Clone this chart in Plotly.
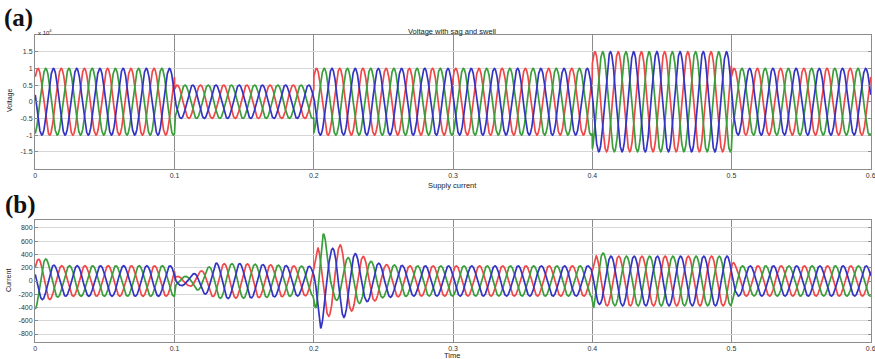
import numpy as np
import plotly.graph_objects as go

# ---------------- data ----------------
freq_hz = 60.0
t_end = 0.6
# voltage: segment boundaries (s) and amplitude in each segment (x 10^4)
seg_t = [0.0, 0.1, 0.2, 0.4, 0.5, 0.6]
v_seg_amp = [1.0, 0.5, 1.0, 1.5, 1.0]
# phase angles (rad) of the three phases: red, green, blue
v_phase = [0.84, 0.84 - 2.094, 0.84 - 4.189]
i_phase = [0.69, 0.69 - 2.094, 0.69 - 4.189]

# supply current amplitude envelopes (A), knots
i_red_t = [0, 0.006, 0.015, 0.1, 0.1005, 0.11, 0.12, 0.13, 0.15, 0.19, 0.1995, 0.203, 0.219, 0.232, 0.25, 0.27,
           0.3995, 0.403, 0.41, 0.4995, 0.503, 0.6]
i_red_a = [330, 330, 230, 230, 70, 70, 160, 260, 260, 225, 220, 520, 545, 400, 250, 228,
           228, 390, 375, 375, 228, 228]
i_grn_t = [0, 0.002, 0.012, 0.02, 0.1, 0.1005, 0.11, 0.12, 0.13, 0.15, 0.19, 0.1995, 0.202, 0.2065, 0.212, 0.227,
           0.25, 0.27, 0.3995, 0.401, 0.408, 0.415, 0.4995, 0.503, 0.6]
i_grn_a = [430, 430, 260, 230, 230, 70, 70, 170, 260, 260, 225, 220, 620, 800, 260, 370,
           250, 228, 228, 475, 420, 375, 375, 228, 228]
i_blu_t = [0, 0.006, 0.015, 0.1, 0.1005, 0.11, 0.12, 0.13, 0.15, 0.19, 0.1995, 0.205, 0.211, 0.221, 0.235, 0.25,
           0.27, 0.398, 0.4, 0.41, 0.4985, 0.503, 0.6]
i_blu_a = [280, 280, 230, 230, 70, 70, 180, 270, 260, 225, 220, 715, 470, 560, 330, 250,
           228, 228, 330, 375, 375, 228, 228]

x_ticks = [0, 0.1, 0.2, 0.3, 0.4, 0.5, 0.6]
x_ticktext = ["0", "0.1", "0.2", "0.3", "0.4", "0.5", "0.6"]
v_ticks = [-1.5, -1, -0.5, 0, 0.5, 1, 1.5]
v_ticktext = ["-1.5", "-1", "-0.5", "0", "0.5", "1", "1.5"]
i_ticks = [-800, -600, -400, -200, 0, 200, 400, 600, 800]
i_ticktext = [str(v) for v in i_ticks]

colors = ["#f04848", "#3a9e3a", "#3434c4"]

# ---------------- build waveforms ----------------
t = np.linspace(0, t_end, 7201)
w = 2 * np.pi * freq_hz
idx = np.clip(np.searchsorted(seg_t, t, side="right") - 1, 0, len(v_seg_amp) - 1)
v_amp_t = np.array(v_seg_amp)[idx]

fig = go.Figure()
for k in range(3):
    fig.add_trace(go.Scatter(x=t, y=v_amp_t * np.sin(w * t + v_phase[k]), mode="lines",
                             line=dict(color=colors[k], width=1.7), xaxis="x", yaxis="y",
                             showlegend=False, hoverinfo="skip"))
env = [(i_red_t, i_red_a), (i_grn_t, i_grn_a), (i_blu_t, i_blu_a)]
for k in range(3):
    a = np.interp(t, env[k][0], env[k][1])
    fig.add_trace(go.Scatter(x=t, y=a * np.sin(w * t + i_phase[k]), mode="lines",
                             line=dict(color=colors[k], width=1.7), xaxis="x2", yaxis="y2",
                             showlegend=False, hoverinfo="skip"))

W, H = 875, 359
xd = [35 / W, 871 / W]
tick_font = dict(family="Liberation Sans, Arial", size=7, color="#333333")
xcommon = dict(range=[-0.0002, 0.6002], tickvals=x_ticks, ticktext=x_ticktext, showgrid=True,
               gridcolor="#8c8c8c", gridwidth=1, zeroline=False, showline=True,
               linecolor="#8c8c8c", linewidth=1, mirror="ticks", ticks="inside", ticklen=3,
               tickcolor="#8c8c8c", tickfont=tick_font, domain=xd, ticklabeloverflow="allow",
               automargin=False)
ycommon = dict(showgrid=True, gridcolor="#d6d6d6", gridwidth=1, zeroline=False, showline=True,
               linecolor="#8c8c8c", linewidth=1, mirror="ticks", ticks="inside", ticklen=3,
               tickcolor="#8c8c8c", tickfont=tick_font, automargin=False)

fig.update_layout(
    width=W, height=H, margin=dict(l=0, r=0, t=0, b=0, autoexpand=False),
    paper_bgcolor="white", plot_bgcolor="white",
    xaxis=dict(**xcommon, anchor="y"),
    yaxis=dict(**ycommon, range=[-2, 2], tickvals=v_ticks, ticktext=v_ticktext,
               domain=[1 - 168.5 / H, 1 - 35 / H], anchor="x"),
    xaxis2=dict(**xcommon, anchor="y2"),
    yaxis2=dict(**ycommon, range=[-920, 920], tickvals=i_ticks, ticktext=i_ticktext,
                domain=[1 - 342 / H, 1 - 220 / H], anchor="x2"),
)

def ann(text, x, y, size=7.5, angle=0, xanchor="center", family="Liberation Sans, Arial",
        color="#222222"):
    fig.add_annotation(text=text, x=x / W, y=1 - y / H, xref="paper", yref="paper",
                       showarrow=False, textangle=angle, xanchor=xanchor, yanchor="middle",
                       font=dict(size=size, family=family, color=color))

ann("<b>(a)</b>", 2, 18, size=25, xanchor="left", family="Liberation Serif, Times New Roman",
    color="#111111")
ann("<b>(b)</b>", 3, 205, size=25, xanchor="left", family="Liberation Serif, Times New Roman",
    color="#111111")
ann("x 10<sup>4</sup>", 36, 32, size=6, xanchor="left")
ann("Voltage with sag and swell", 452, 31, size=7.5)
ann("Supply current", 452, 185, size=7.5)
ann("Time", 452, 355, size=7.5)
ann("Voltage", 10, 101, size=7, angle=-90)
ann("Current", 8, 281, size=7, angle=-90)

fig.write_html("out.html")
